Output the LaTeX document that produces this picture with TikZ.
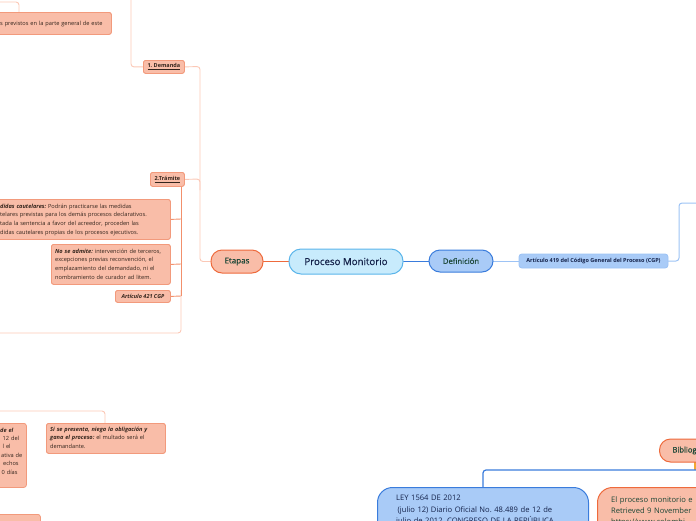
\documentclass[tikz,border=0pt]{standalone}
\usepackage{fontspec}
\setmainfont{Open Sans}
\newfontfamily\semib[FakeBold=0.6]{Open Sans}
\usetikzlibrary{calc}
\definecolor{salF}{HTML}{F9BDA8}
\definecolor{salD}{HTML}{F29A7C}
\definecolor{orgD}{HTML}{EE6A3C}
\definecolor{salL}{HTML}{FBC8B6}
\definecolor{conOr}{HTML}{F2906C}
\definecolor{bluF}{HTML}{A9CBF7}
\definecolor{bluD}{HTML}{3A7CDC}
\definecolor{bluL}{HTML}{9DC3F5}
\definecolor{pmF}{HTML}{C8EBFC}
\definecolor{pmD}{HTML}{5BB5EA}
\definecolor{txG}{HTML}{1B4636}
\definecolor{txN}{HTML}{14224A}
\definecolor{txB}{HTML}{33241C}
\definecolor{yelC}{HTML}{F3A733}
\frenchspacing
\begin{document}
\begin{tikzpicture}[x=1pt,y=-1pt,
  sbox/.style={draw=salD, fill=salF, line width=0.8pt, rounded corners=2.5pt, inner sep=0pt, anchor=north west},
  stext/.style={text=txB, font=\fontsize{5.65}{8.7}\selectfont, align=left, inner sep=0pt, anchor=base west, text width=#1},
  stext/.default=200pt,
  pill/.style={rounded corners=11pt, line width=1pt, inner sep=0pt},
  conL/.style={draw=salL, line width=0.9pt, rounded corners=3pt},
  conO/.style={draw=conOr, line width=0.9pt, rounded corners=3pt},
  conB/.style={draw=bluL, line width=1pt, rounded corners=3pt},
]
\useasboundingbox (0,0) rectangle (696,520);
\clip (0,0) rectangle (696,520);

% ---------- coordinates for free ends ----------
\coordinate (ctl) at (-5,2);
\coordinate (cdem) at (131,-5);
\coordinate (cleft) at (-5,333);
\coordinate (cbl) at (-5,411);
\coordinate (cright) at (705,203);
\coordinate (cbr) at (705,470);

% ---------- boxes (placed first for anchors) ----------
\node[sbox, minimum width=131pt, minimum height=22pt] (tlbox) at (-20,12) {};
\node[sbox, minimum width=41pt, minimum height=13pt] (dem) at (143,60) {};
\node[sbox, minimum width=34pt, minimum height=14pt] (tra) at (150,172) {};
\node[sbox, minimum width=190pt, minimum height=40pt] (med) at (-20,199) {};
\node[sbox, minimum width=119pt, minimum height=40pt] (adm) at (51,244) {};
\node[sbox, minimum width=55pt, minimum height=12pt] (a421) at (115,290) {};
\node[sbox, minimum width=46pt, minimum height=64pt] (bla) at (-20,423) {};
\node[sbox, minimum width=119pt, minimum height=30pt] (pres) at (46,423) {};
\node[sbox, minimum width=60pt, minimum height=25pt] (blb) at (-20,514) {};

% ---------- connectors ----------
\draw[conL] (ctl) -| (tlbox.north west -| 19,0);
\draw[conL] (cdem) |- (dem.west);
\draw[conL] (dem.east) -- (200,66.5) -- (200,261.5) -- (237,261.5);
\draw[conL] (tra.east) -- (200,179) -- (200,190);
\draw[conL] (181,290) -- (181,333) -- (cleft);
\draw[conO] (tra.south -| 181,0) -- (181,296);
\draw[conO] (med.east) -- (181,219);
\draw[conO] (adm.east) -- (181,264);
\draw[conO] (a421.east) -- (181,296);
\draw[conL] (cbl) -| (pres.north -| 105,0);

% redraw boxes over connectors
\node[sbox, minimum width=131pt, minimum height=22pt] at (-20,12) {};
\node[sbox, minimum width=41pt, minimum height=13pt] at (143,60) {};
\node[sbox, minimum width=34pt, minimum height=14pt] at (150,172) {};
\node[sbox, minimum width=190pt, minimum height=40pt] at (-20,199) {};
\node[sbox, minimum width=119pt, minimum height=40pt] at (51,244) {};
\node[sbox, minimum width=55pt, minimum height=12pt] at (115,290) {};
\node[sbox, minimum width=119pt, minimum height=30pt] at (46,423) {};

% ---------- texts in small boxes ----------
\node[stext] (tltx) at (0,25) {s previstos en la parte general de este};
\node[text=txB, inner sep=0pt, font=\fontsize{5.5}{7}\selectfont\bfseries] (demtx) at (dem.center) {\underline{1. Demanda}};
\node[text=txB, inner sep=0pt, font=\fontsize{5.5}{7}\selectfont\bfseries] (tratx) at (tra.center) {\underline{2.Trámite}};
\node[stext] (medtx) at (0,208) {\textbf{\textit{didas cautelares:}} Podrán practicarse las medidas\\
telares previstas para los demás procesos declarativos.\\
tada la sentencia a favor del acreedor, proceden las\\
didas cautelares propias de los procesos ejecutivos.};
\node[stext] (admtx) at (55,253) {\textbf{\textit{No se admite:}} intervención de terceros,\\
excepciones previas reconvención, el\\
emplazamiento del demandado, ni el\\
nombramiento de curador ad litem.};
\node[text=txB, inner sep=0pt, font=\fontsize{5.5}{7}\selectfont\bfseries\itshape] (a421tx) at (a421.center) {Artículo 421 CGP};
\node[stext, font=\fontsize{5.65}{8.4}\selectfont] (blatx) at (0,432) {\textbf{\textit{de el}}\\
\hspace*{2.5pt}12 del\\
\hspace*{2.5pt}l el\\
\hspace*{1pt}ativa de\\
\hspace*{3pt}echos\\
\hspace*{1.5pt}0 días};
\node[stext] (prestx) at (50,431) {\textbf{\textit{Si se presenta, niega la obligación y}}\\
\textbf{\textit{gana el proceso:}} el multado será el\\
demandante.};

% ---------- central nodes ----------
\draw[draw=orgD, line width=1.4pt] (263,261.5) -- (289,261.5);
\draw[draw=bluD, line width=1.4pt] (403,261.5) -- (429,261.5);
\draw[conB] (493,261.5) -- (519,261.5);
\draw[conB] (668,261) -- (679,261) -- (679,203) -- (cright);

\node[pill, fill=salF, draw=orgD, minimum width=52pt, minimum height=23pt, text=txG, font=\semib\fontsize{8}{9}\selectfont] (eta) at (237,261.5) {Etapas};
\node[pill, rounded corners=12pt, fill=pmF, draw=pmD, minimum width=114pt, minimum height=25pt, text=txN, font=\semib\fontsize{9.7}{11}\selectfont] (pm) at (346,261.5) {Proceso Monitorio};
\node[pill, fill=bluF, draw=bluD, minimum width=64pt, minimum height=22pt, text=txG, font=\semib\fontsize{7.7}{9}\selectfont] (def) at (461,261) {Definición};
\node[draw=bluL, fill=bluF, line width=0.9pt, rounded corners=3pt, minimum width=149pt, minimum height=14pt, inner sep=0pt, text=txN, font=\fontsize{5.5}{6}\selectfont\bfseries] (a419) at (593.5,261) {Artículo 419 del Código General del Proceso (CGP)};

% ---------- bibliography ----------
\draw[draw=yelC, line width=1.2pt] (695,462) -- (695,470);
\draw[draw=bluD, line width=1.2pt, rounded corners=3pt] (cbr) -- (483,470) -- (483,487);
\node[pill, anchor=west, fill=salF, draw=orgD, minimum height=23pt, inner xsep=13pt, text=txG, font=\semib\fontsize{7.6}{9}\selectfont] (bib) at (659,450.5) {Bibliografía};
\node[draw=bluD, fill=bluF, line width=1pt, rounded corners=15pt, minimum width=211pt, minimum height=60pt, inner sep=0pt, anchor=north west] (ley) at (377,487) {};
\node[draw=orgD, fill=salF, line width=1pt, rounded corners=15pt, minimum width=130pt, minimum height=60pt, inner sep=0pt, anchor=north west] (epm) at (597,487) {};
\node[inner sep=0pt, anchor=base west, align=left, text width=220pt, text=txN, font=\fontsize{7.6}{11.7}\selectfont] (leytx) at (396,500.5) {LEY 1564 DE 2012\\
\hspace*{1.5pt}(julio 12) Diario Oficial No. 48.489 de 12 de\\
julio de 2012. CONGRESO DE LA REPÚBLICA};
\node[inner sep=0pt, anchor=base west, align=left, text width=200pt, text=txG, font=\fontsize{7.6}{11.2}\selectfont] (epmtx) at (611,502) {El proceso monitorio e\\
Retrieved 9 November\\
https://www.colombi};
\end{tikzpicture}
\end{document}
